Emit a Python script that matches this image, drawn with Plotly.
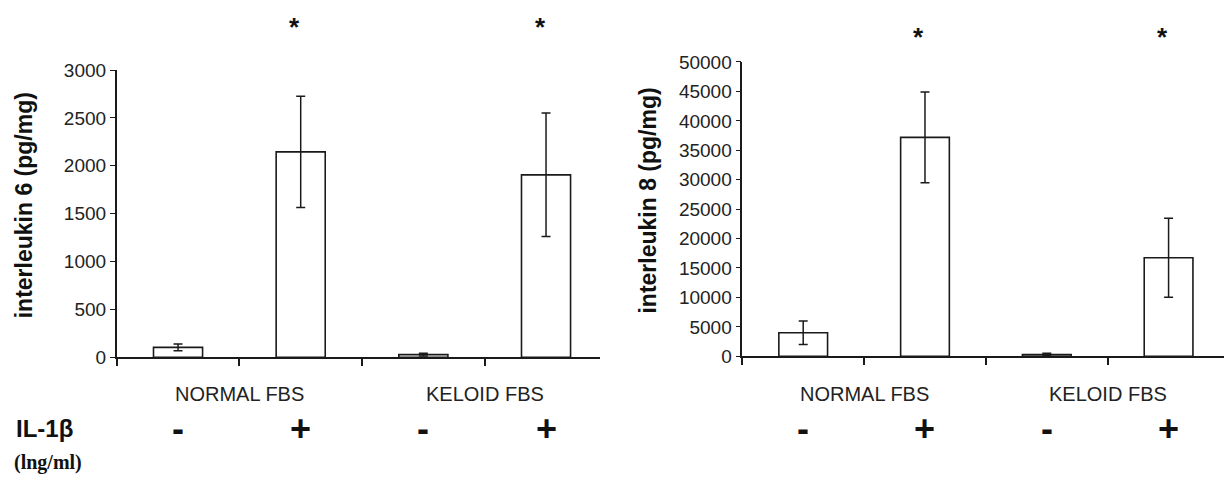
import plotly.graph_objects as go

W, H = 1224, 493

# ---- data ----
groups = ["NORMAL FBS", "KELOID FBS"]
il1b_labels = ["-", "+", "-", "+"]
il6_values = [103, 2145, 27, 1905]
il6_errors = [35, 580, 15, 645]
il8_values = [4000, 37200, 300, 16750]
il8_errors = [2000, 7700, 200, 6720]
il6_ticks = [0, 500, 1000, 1500, 2000, 2500, 3000]
il8_ticks = [0, 5000, 10000, 15000, 20000, 25000, 30000, 35000, 40000, 45000, 50000]
significant = [False, True, False, True]

xpos = list(range(len(il6_values)))
INK = "#1a1a1a"
FONT = "Arial, Liberation Sans, sans-serif"

fig = go.Figure()

def add_bars(vals, errs, xa, ya):
    fig.add_trace(go.Bar(
        x=xpos, y=vals, width=0.4,
        marker=dict(color="white", line=dict(color=INK, width=1.6)),
        error_y=dict(type="data", array=errs, visible=True, color=INK,
                     thickness=1.5, width=4.5),
        xaxis=xa, yaxis=ya, showlegend=False, cliponaxis=False,
    ))

add_bars(il6_values, il6_errors, "x", "y")
add_bars(il8_values, il8_errors, "x2", "y2")

axis_common = dict(showline=True, linecolor=INK, linewidth=1.5, ticks="outside",
                   tickcolor=INK, showgrid=False, zeroline=False)

fig.update_layout(
    width=W, height=H, margin=dict(l=0, r=0, t=0, b=0),
    paper_bgcolor="white", plot_bgcolor="white",
    bargap=0.6,
    font=dict(family=FONT, color=INK),
    xaxis=dict(domain=[116.7 / W, 600 / W], range=[-0.5, 3.44],
               tickmode="array", tickvals=[-0.5, 0.5, 1.5, 2.5], ticktext=["", "", "", ""],
               ticklen=7, tickwidth=1.5, anchor="y", **axis_common),
    yaxis=dict(domain=[(H - 362.7) / H, (H - 62.7) / H], range=[0, 3000],
               tickmode="array", tickvals=il6_ticks, ticktext=[str(t) for t in il6_ticks],
               ticklen=5, tickwidth=1.2, tickfont=dict(size=19, color="#222"),
               anchor="x", **axis_common),
    xaxis2=dict(domain=[742.3 / W, 1.0], range=[-0.5, 3.455],
                tickmode="array", tickvals=[-0.5, 0.5, 1.5, 2.5], ticktext=["", "", "", ""],
                ticklen=7, tickwidth=1.5, anchor="y2", **axis_common),
    yaxis2=dict(domain=[(H - 361.7) / H, (H - 54.3) / H], range=[0, 50000],
                tickmode="array", tickvals=il8_ticks, ticktext=[str(t) for t in il8_ticks],
                ticklen=5, tickwidth=1.2, tickfont=dict(size=19, color="#222"),
                anchor="x2", **axis_common),
)

ann = []
# y-axis titles
ann.append(dict(text="<b>interleukin 6 (pg/mg)</b>", textangle=-90, x=24 / W, y=(H - 204) / H,
                xref="paper", yref="paper", xanchor="center", yanchor="middle",
                showarrow=False, font=dict(size=23, color="#111")))
ann.append(dict(text="<b>interleukin 8 (pg/mg)</b>", textangle=-90, x=648 / W, y=(H - 199) / H,
                xref="paper", yref="paper", xanchor="center", yanchor="middle",
                showarrow=False, font=dict(size=23, color="#111")))

for xa, star_px in (("x", 23), ("x2", 33.6)):
    # group labels
    for gi, g in enumerate(groups):
        ann.append(dict(text=g, x=0.5 + 2 * gi, y=(H - 401) / H, xref=xa, yref="paper",
                        xanchor="center", yanchor="middle",
                        showarrow=False, font=dict(size=20, color="#222")))
    # +/- labels
    for i, s in enumerate(il1b_labels):
        ann.append(dict(text="<b>%s</b>" % s, x=i, y=(H - 437) / H, xref=xa, yref="paper",
                        xanchor="center", yanchor="middle",
                        showarrow=False, font=dict(size=36, color="#111")))
    # significance asterisks
    for i, sig in enumerate(significant):
        if sig:
            ann.append(dict(text="<b>*</b>", x=i, y=(H - star_px) / H, xref=xa, yref="paper",
                            xanchor="center", yanchor="middle",
                            xshift=-6, yshift=5, showarrow=False,
                            font=dict(size=26, color="#111")))

ann.append(dict(text="<b>IL-1β</b>", x=14 / W, y=(H - 437) / H, xref="paper", yref="paper",
                xanchor="left", yanchor="middle", showarrow=False, font=dict(size=24, color="#111")))
ann.append(dict(text="<b>(lng/ml)</b>", x=12 / W, y=(H - 473) / H, xref="paper", yref="paper",
                xanchor="left", yanchor="middle", showarrow=False,
                font=dict(size=20, color="#111", family="Times New Roman, Liberation Serif, serif")))

fig.update_layout(annotations=ann)
fig.write_html("out.html", config={"displayModeBar": False},
               post_script="document.body.style.margin='0';document.body.style.overflow='hidden';")
